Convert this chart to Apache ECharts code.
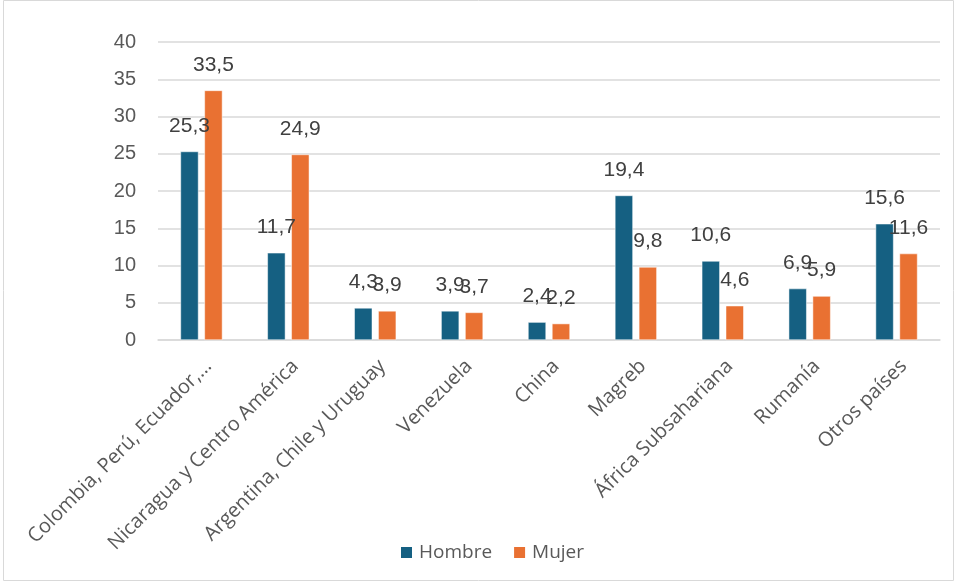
<!DOCTYPE html>
<html>
<head>
<meta charset="utf-8">
<script src="https://cdn.jsdelivr.net/npm/echarts@6/dist/echarts.min.js"></script>
<style>html,body{margin:0;padding:0;background:#fff}#c{width:955px;height:582px}</style>
</head>
<body>
<div id="c"></div>
<script>
const categories = ["Colombia, Perú, Ecuador,…", "Nicaragua y Centro América", "Argentina, Chile y Uruguay", "Venezuela", "China", "Magreb", "África Subsahariana", "Rumanía", "Otros países"];
const hombre = [25.3, 11.7, 4.3, 3.9, 2.4, 19.4, 10.6, 6.9, 15.6];
const mujer = [33.5, 24.9, 3.9, 3.7, 2.2, 9.8, 4.6, 5.9, 11.6];
const seriesNames = ["Hombre", "Mujer"];

const chart = echarts.init(document.getElementById('c'), null, {renderer: 'canvas'});
const numFont = '"Liberation Sans", Arial, sans-serif';
const txtFont = '"Open Sans", sans-serif';
const fmt = p => String(p.value).replace('.', ',');
const lbl = {show: true, position: 'top', distance: 15, formatter: fmt, color: '#404040', fontSize: 21, fontFamily: numFont};
chart.setOption({
  animation: false,
  graphic: [{type: 'rect', shape: {x: 3.5, y: 0.5, width: 950, height: 580}, style: {fill: 'none', stroke: '#d9d9d9', lineWidth: 1}, silent: true}],
  grid: {left: 158, right: 15, top: 42, bottom: 242, containLabel: false},
  legend: {
    data: seriesNames, top: 538, left: 394, itemWidth: 13, itemHeight: 13, itemGap: 20,
    icon: 'rect', textStyle: {fontSize: 19, color: '#595959', fontFamily: txtFont, padding: [0, 0, 0, 1]}
  },
  xAxis: {
    type: 'category', data: categories,
    axisLine: {show: true, lineStyle: {color: '#d9d9d9', width: 1.5}},
    axisTick: {show: false},
    axisLabel: {rotate: 45, interval: 0, color: '#595959', fontSize: 20, margin: 16, verticalAlign: 'top', fontFamily: txtFont}
  },
  yAxis: {
    type: 'value', min: 0, max: 40, interval: 5,
    axisLine: {show: false}, axisTick: {show: false},
    splitLine: {lineStyle: {color: '#d9d9d9', width: 1.5}},
    axisLabel: {color: '#595959', fontSize: 20, margin: 22, fontFamily: numFont}
  },
  series: [
    {name: seriesNames[0], type: 'bar', data: hombre, barWidth: 18, barGap: '33%', itemStyle: {color: '#156082', borderColor: '#ffffff', borderWidth: 0.5}, label: lbl},
    {name: seriesNames[1], type: 'bar', data: mujer, barWidth: 18, itemStyle: {color: '#E97132', borderColor: '#ffffff', borderWidth: 0.5}, label: lbl}
  ]
});
</script>
</body>
</html>
